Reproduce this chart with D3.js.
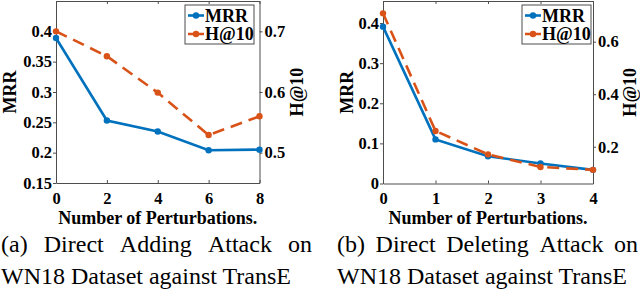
<!DOCTYPE html>
<html>
<head>
<meta charset="utf-8">
<script src="https://cdn.jsdelivr.net/npm/d3@7"></script>
</head>
<body style="margin:0; background:#fff">
<svg id="chart" width="640" height="297" font-family="Liberation Serif"></svg>
<script>
// panel (a): direct adding attack
var addX = [0, 2, 4, 6, 8];
var addMRR = [0.389, 0.253, 0.235, 0.204, 0.205];
var addH10 = [0.700, 0.659, 0.599, 0.529, 0.560];
var addMRRTicks = [0.15, 0.2, 0.25, 0.3, 0.35, 0.4];
var addH10Ticks = [0.5, 0.6, 0.7];

// panel (b): direct deleting attack
var delX = [0, 1, 2, 3, 4];
var delMRR = [0.391, 0.110, 0.068, 0.050, 0.034];
var delH10 = [0.708, 0.260, 0.171, 0.123, 0.112];
var delMRRTicks = [0, 0.1, 0.2, 0.3, 0.4];
var delH10Ticks = [0.2, 0.4, 0.6];

var seriesNames = ['MRR', 'H@10'];
var xTitle = 'Number of Perturbations.';
var captionA = ['(a) Direct Adding Attack on', 'WN18 Dataset against TransE'];
var captionB = ['(b) Direct Deleting Attack on', 'WN18 Dataset against TransE'];

var blue = '#0072BD', orange = '#D95319', axisCol = '#4d4d4d';
var serif = 'Liberation Serif';

var svg = d3.select('#chart');

function panel(opt) {
    var x = d3.scaleLinear().domain(d3.extent(opt.xs)).range([opt.left, opt.right]);
    var yl = d3.scaleLinear().domain(opt.lDomain).range([opt.bottom, opt.top]);
    var yr = d3.scaleLinear().domain(opt.rDomain).range([opt.bottom, opt.top]);
    var g = svg.append('g');

    // frame with inward x ticks
    g.append('g').attr('transform', 'translate(0,' + opt.bottom + ')')
        .call(d3.axisBottom(x).tickValues(opt.xs).tickSizeInner(-3).tickSizeOuter(0)
            .tickPadding(9).tickFormat(d3.format('d')));
    g.append('g').attr('transform', 'translate(0,' + opt.top + ')')
        .call(d3.axisTop(x).tickValues(opt.xs).tickSizeInner(-3).tickSizeOuter(0).tickFormat(''));
    g.append('g').attr('transform', 'translate(' + opt.left + ',0)')
        .call(d3.axisLeft(yl).tickValues(opt.lTicks).tickSize(3).tickSizeOuter(0).tickPadding(1).tickFormat(d3.format('~g')));
    g.append('g').attr('transform', 'translate(' + opt.right + ',0)')
        .call(d3.axisRight(yr).tickValues(opt.rTicks).tickSize(3).tickSizeOuter(0).tickPadding(2).tickFormat(d3.format('~g')));

    g.selectAll('g').attr('font-family', null);
    g.selectAll('.domain').attr('stroke', axisCol);
    g.selectAll('.tick line').attr('stroke', axisCol);
    g.selectAll('.tick text').attr('fill', '#000').attr('font-size', 16.5).attr('font-weight', 'bold');

    // series
    var mrrPts = opt.xs.map(function (d, i) { return [x(d), yl(opt.mrr[i])]; });
    var h10Pts = opt.xs.map(function (d, i) { return [x(d), yr(opt.h10[i])]; });

    g.append('path').attr('d', d3.line()(mrrPts))
        .attr('fill', 'none').attr('stroke', blue).attr('stroke-width', 2.6);
    g.selectAll('.m1').data(mrrPts).enter().append('circle')
        .attr('cx', function (d) { return d[0]; }).attr('cy', function (d) { return d[1]; })
        .attr('r', 3.2).attr('fill', blue);

    g.append('path').attr('d', d3.line()(h10Pts))
        .attr('fill', 'none').attr('stroke', orange).attr('stroke-width', 2.6)
        .attr('stroke-dasharray', '12,7');
    g.selectAll('.m2').data(h10Pts).enter().append('circle')
        .attr('cx', function (d) { return d[0]; }).attr('cy', function (d) { return d[1]; })
        .attr('r', 3.2).attr('fill', orange);

    // axis titles
    var midY = (opt.top + opt.bottom) / 2;
    g.append('text').attr('transform', 'translate(' + opt.lTitleX + ',' + midY + ') rotate(-90)')
        .attr('text-anchor', 'middle').attr('font-size', 18).attr('font-weight', 'bold')
        .text(seriesNames[0]);
    g.append('text').attr('transform', 'translate(' + opt.rTitleX + ',' + midY + ') rotate(-90)')
        .attr('text-anchor', 'middle').attr('font-size', 18).attr('font-weight', 'bold')
        .text(seriesNames[1]);
    g.append('text').attr('x', (opt.left + opt.right) / 2).attr('y', 224)
        .attr('text-anchor', 'middle').attr('font-size', 18).attr('font-weight', 'bold')
        .text(xTitle);

    // legend
    var lg = g.append('g').attr('transform', 'translate(' + opt.legX + ',5)');
    lg.append('rect').attr('x', 0).attr('y', 0).attr('width', 69).attr('height', 39)
        .attr('fill', '#fff').attr('stroke', axisCol).attr('stroke-width', 1);
    [[blue, null], [orange, '6,4']].forEach(function (s, i) {
        var cy = 10.5 + i * 18.5;
        lg.append('line').attr('x1', 3).attr('x2', 19).attr('y1', cy).attr('y2', cy)
            .attr('stroke', s[0]).attr('stroke-width', 2.6).attr('stroke-dasharray', s[1]);
        lg.append('circle').attr('cx', 11).attr('cy', cy).attr('r', 3.2).attr('fill', s[0]);
        lg.append('text').attr('x', 20).attr('y', cy + 6).attr('font-size', 18)
            .attr('font-weight', 'bold').text(seriesNames[i]);
    });

    // caption: first line justified, second line left aligned
    var words = opt.caption[0].split(' ');
    var cap = g.append('g').attr('font-size', 24);
    var nodes = words.map(function (w) {
        return cap.append('text').attr('y', 252).text(w);
    });
    var widths = nodes.map(function (n) { return n.node().getComputedTextLength(); });
    var gap = (opt.capRight - opt.capLeft - d3.sum(widths)) / (words.length - 1);
    var cx = opt.capLeft;
    nodes.forEach(function (n, i) { n.attr('x', cx); cx += widths[i] + gap; });
    cap.append('text').attr('x', opt.capLeft).attr('y', 284).text(opt.caption[1]);
}

panel({
    xs: addX, mrr: addMRR, h10: addH10,
    left: 56, right: 259.5, top: 1, bottom: 183,
    lDomain: [0.15, 0.45], rDomain: [0.45, 0.75],
    lTicks: addMRRTicks, rTicks: addH10Ticks,
    lTitleX: 16, rTitleX: 303, legX: 185,
    caption: captionA, capLeft: 1, capRight: 312
});

panel({
    xs: delX, mrr: delMRR, h10: delH10,
    left: 383, right: 593, top: 1, bottom: 183.5,
    lDomain: [0, 0.455], rDomain: [0.06, 0.755],
    lTicks: delMRRTicks, rTicks: delH10Ticks,
    lTitleX: 353, rTitleX: 636, legX: 522,
    caption: captionB, capLeft: 337, capRight: 638
});

svg.selectAll('text').attr('font-family', serif).style('font-family', serif);
</script>
</body>
</html>
